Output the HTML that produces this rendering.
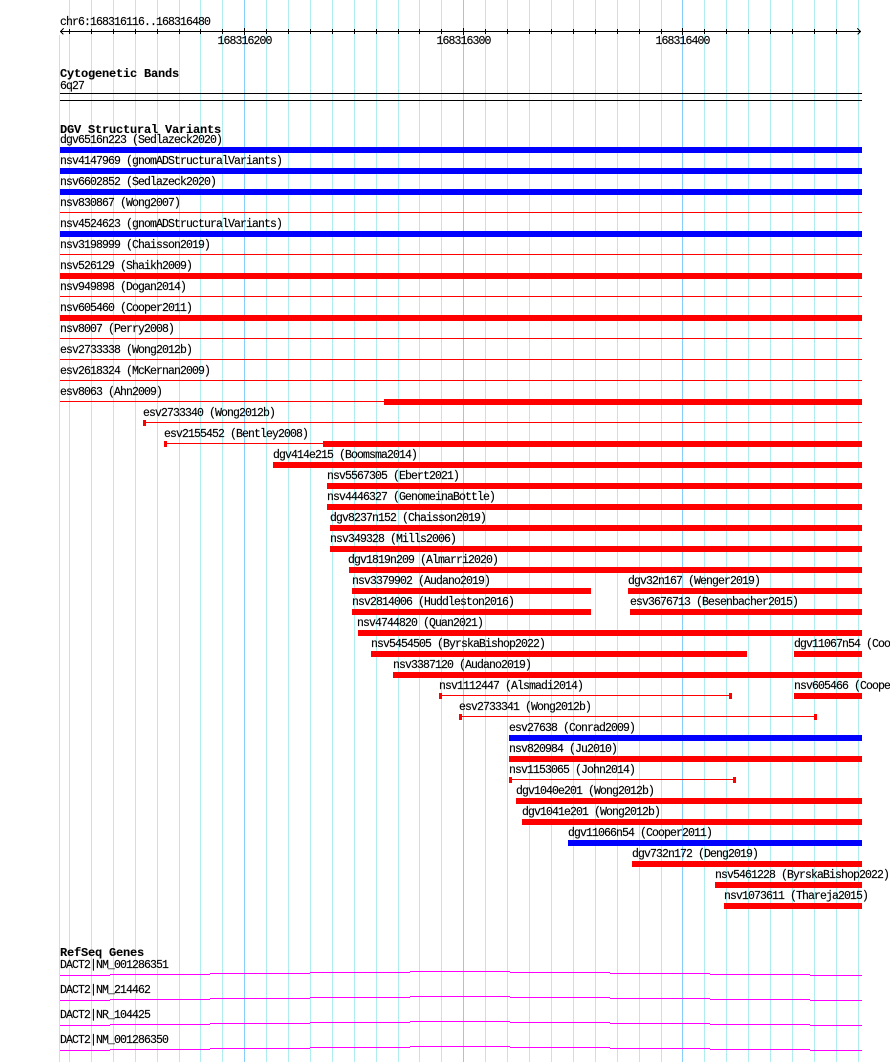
<!DOCTYPE html>
<html><head><meta charset="utf-8"><style>
html,body{margin:0;padding:0;background:#fff}
svg{display:block}
text{font-family:"Liberation Mono",monospace;font-size:11.5px;letter-spacing:-0.9px;fill:#000;stroke:#000;stroke-width:0.15px}
text.b{font-weight:bold;font-size:12px;letter-spacing:-0.2px;stroke-width:0.1px}
</style></head><body>
<svg width="890" height="1062" viewBox="0 0 890 1062" xmlns="http://www.w3.org/2000/svg" shape-rendering="crispEdges">
<rect x="0" y="0" width="890" height="1062" fill="#fff"/>
<g fill="#aeeeee">
<rect x="59" y="35" width="1" height="1027"/>
<rect x="69" y="0" width="1" height="1062"/><rect x="91" y="0" width="1" height="1062"/><rect x="113" y="0" width="1" height="1062"/><rect x="135" y="0" width="1" height="1062"/><rect x="157" y="0" width="1" height="1062"/><rect x="179" y="0" width="1" height="1062"/><rect x="200" y="0" width="1" height="1062"/><rect x="222" y="0" width="1" height="1062"/>
<rect x="266" y="0" width="1" height="1062"/><rect x="288" y="0" width="1" height="1062"/><rect x="310" y="0" width="1" height="1062"/><rect x="332" y="0" width="1" height="1062"/><rect x="354" y="0" width="1" height="1062"/><rect x="376" y="0" width="1" height="1062"/><rect x="398" y="0" width="1" height="1062"/><rect x="419" y="0" width="1" height="1062"/><rect x="441" y="0" width="1" height="1062"/>
<rect x="485" y="0" width="1" height="1062"/><rect x="507" y="0" width="1" height="1062"/><rect x="529" y="0" width="1" height="1062"/><rect x="551" y="0" width="1" height="1062"/><rect x="573" y="0" width="1" height="1062"/><rect x="595" y="0" width="1" height="1062"/><rect x="617" y="0" width="1" height="1062"/><rect x="639" y="0" width="1" height="1062"/><rect x="661" y="0" width="1" height="1062"/>
<rect x="704" y="0" width="1" height="1062"/><rect x="726" y="0" width="1" height="1062"/><rect x="748" y="0" width="1" height="1062"/><rect x="770" y="0" width="1" height="1062"/><rect x="792" y="0" width="1" height="1062"/><rect x="814" y="0" width="1" height="1062"/><rect x="836" y="0" width="1" height="1062"/><rect x="858" y="0" width="1" height="1062"/>
</g>
<g fill="#87cefa">
<rect x="244" y="0" width="1" height="1062"/><rect x="463" y="0" width="1" height="1062"/><rect x="682" y="0" width="1" height="1062"/>
</g>

<!-- ruler -->
<text x="60" y="25">chr6:168316116..168316480</text>
<rect x="60" y="31" width="801" height="1" fill="#000"/>
<g fill="#000">
<rect x="69" y="29" width="1" height="5"/><rect x="91" y="29" width="1" height="5"/><rect x="113" y="29" width="1" height="5"/><rect x="135" y="29" width="1" height="5"/><rect x="157" y="29" width="1" height="5"/><rect x="179" y="29" width="1" height="5"/><rect x="200" y="29" width="1" height="5"/><rect x="222" y="29" width="1" height="5"/><rect x="244" y="28" width="1" height="7"/>
<rect x="266" y="29" width="1" height="5"/><rect x="288" y="29" width="1" height="5"/><rect x="310" y="29" width="1" height="5"/><rect x="332" y="29" width="1" height="5"/><rect x="354" y="29" width="1" height="5"/><rect x="376" y="29" width="1" height="5"/><rect x="398" y="29" width="1" height="5"/><rect x="419" y="29" width="1" height="5"/><rect x="441" y="29" width="1" height="5"/><rect x="463" y="28" width="1" height="7"/>
<rect x="485" y="29" width="1" height="5"/><rect x="507" y="29" width="1" height="5"/><rect x="529" y="29" width="1" height="5"/><rect x="551" y="29" width="1" height="5"/><rect x="573" y="29" width="1" height="5"/><rect x="595" y="29" width="1" height="5"/><rect x="617" y="29" width="1" height="5"/><rect x="639" y="29" width="1" height="5"/><rect x="661" y="29" width="1" height="5"/><rect x="682" y="28" width="1" height="7"/>
<rect x="704" y="29" width="1" height="5"/><rect x="726" y="29" width="1" height="5"/><rect x="748" y="29" width="1" height="5"/><rect x="770" y="29" width="1" height="5"/><rect x="792" y="29" width="1" height="5"/><rect x="814" y="29" width="1" height="5"/><rect x="836" y="29" width="1" height="5"/>
</g>
<polyline points="63.5,28.5 60.5,31.5 63.5,34.5" fill="none" stroke="#000" stroke-width="1"/>
<polyline points="857.5,28.5 860.5,31.5 857.5,34.5" fill="none" stroke="#000" stroke-width="1"/>
<text x="244.5" y="44" text-anchor="middle">168316200</text>
<text x="463.5" y="44" text-anchor="middle">168316300</text>
<text x="682.5" y="44" text-anchor="middle">168316400</text>

<!-- cytobands -->
<text class="b" x="60" y="77">Cytogenetic Bands</text>
<text x="60" y="89">6q27</text>
<rect x="60" y="93" width="802" height="1" fill="#000"/>
<rect x="60" y="100" width="802" height="1" fill="#000"/>

<!-- DGV -->
<text class="b" x="60" y="133">DGV Structural Variants</text>

<g>
<text x="60" y="143">dgv6516n223 (Sedlazeck2020)</text>
<rect x="60" y="147" width="802" height="6" fill="#0000ff"/>
<text x="60" y="164">nsv4147969 (gnomADStructuralVariants)</text>
<rect x="60" y="168" width="802" height="6" fill="#0000ff"/>
<text x="60" y="185">nsv6602852 (Sedlazeck2020)</text>
<rect x="60" y="189" width="802" height="6" fill="#0000ff"/>
<text x="60" y="206">nsv830867 (Wong2007)</text>
<rect x="60" y="212" width="802" height="1" fill="#ff0000"/>
<text x="60" y="227">nsv4524623 (gnomADStructuralVariants)</text>
<rect x="60" y="231" width="802" height="6" fill="#0000ff"/>
<text x="60" y="248">nsv3198999 (Chaisson2019)</text>
<rect x="60" y="254" width="802" height="1" fill="#ff0000"/>
<text x="60" y="269">nsv526129 (Shaikh2009)</text>
<rect x="60" y="273" width="802" height="6" fill="#ff0000"/>
<text x="60" y="290">nsv949898 (Dogan2014)</text>
<rect x="60" y="296" width="802" height="1" fill="#ff0000"/>
<text x="60" y="311">nsv605460 (Cooper2011)</text>
<rect x="60" y="315" width="802" height="6" fill="#ff0000"/>
<text x="60" y="332">nsv8007 (Perry2008)</text>
<rect x="60" y="338" width="802" height="1" fill="#ff0000"/>
<text x="60" y="353">esv2733338 (Wong2012b)</text>
<rect x="60" y="359" width="802" height="1" fill="#ff0000"/>
<text x="60" y="374">esv2618324 (McKernan2009)</text>
<rect x="60" y="380" width="802" height="1" fill="#ff0000"/>
<text x="60" y="395">esv8063 (Ahn2009)</text>
<rect x="60" y="401" width="802" height="1" fill="#ff0000"/>
<rect x="384" y="399" width="478" height="6" fill="#ff0000"/>
<text x="143" y="416">esv2733340 (Wong2012b)</text>
<rect x="143" y="422" width="719" height="1" fill="#ff0000"/>
<rect x="143" y="420" width="3" height="6" fill="#ff0000"/>
<text x="164" y="437">esv2155452 (Bentley2008)</text>
<rect x="164" y="443" width="160" height="1" fill="#ff0000"/>
<rect x="164" y="441" width="3" height="6" fill="#ff0000"/>
<rect x="323" y="441" width="539" height="6" fill="#ff0000"/>
<text x="273" y="458">dgv414e215 (Boomsma2014)</text>
<rect x="273" y="462" width="589" height="6" fill="#ff0000"/>
<text x="327" y="479">nsv5567305 (Ebert2021)</text>
<rect x="327" y="483" width="535" height="6" fill="#ff0000"/>
<text x="327" y="500">nsv4446327 (GenomeinaBottle)</text>
<rect x="327" y="504" width="535" height="6" fill="#ff0000"/>
<text x="330" y="521">dgv8237n152 (Chaisson2019)</text>
<rect x="330" y="525" width="532" height="6" fill="#ff0000"/>
<text x="330" y="542">nsv349328 (Mills2006)</text>
<rect x="330" y="546" width="532" height="6" fill="#ff0000"/>
<text x="348" y="563">dgv1819n209 (Almarri2020)</text>
<rect x="349" y="567" width="513" height="6" fill="#ff0000"/>
<text x="352" y="584">nsv3379902 (Audano2019)</text>
<rect x="352" y="588" width="239" height="6" fill="#ff0000"/>
<text x="628" y="584">dgv32n167 (Wenger2019)</text>
<rect x="628" y="588" width="234" height="6" fill="#ff0000"/>
<text x="352" y="605">nsv2814006 (Huddleston2016)</text>
<rect x="352" y="609" width="239" height="6" fill="#ff0000"/>
<text x="630" y="605">esv3676713 (Besenbacher2015)</text>
<rect x="630" y="609" width="232" height="6" fill="#ff0000"/>
<text x="357" y="626">nsv4744820 (Quan2021)</text>
<rect x="358" y="630" width="504" height="6" fill="#ff0000"/>
<text x="371" y="647">nsv5454505 (ByrskaBishop2022)</text>
<rect x="371" y="651" width="376" height="6" fill="#ff0000"/>
<text x="794" y="647">dgv11067n54 (Cooper2011)</text>
<rect x="794" y="651" width="68" height="6" fill="#ff0000"/>
<text x="393" y="668">nsv3387120 (Audano2019)</text>
<rect x="393" y="672" width="469" height="6" fill="#ff0000"/>
<text x="439" y="689">nsv1112447 (Alsmadi2014)</text>
<rect x="439" y="695" width="293" height="1" fill="#ff0000"/>
<rect x="439" y="693" width="3" height="6" fill="#ff0000"/>
<rect x="729" y="693" width="3" height="6" fill="#ff0000"/>
<text x="794" y="689">nsv605466 (Cooper2011)</text>
<rect x="794" y="693" width="68" height="6" fill="#ff0000"/>
<text x="459" y="710">esv2733341 (Wong2012b)</text>
<rect x="459" y="716" width="358" height="1" fill="#ff0000"/>
<rect x="459" y="714" width="3" height="6" fill="#ff0000"/>
<rect x="814" y="714" width="3" height="6" fill="#ff0000"/>
<text x="509" y="731">esv27638 (Conrad2009)</text>
<rect x="509" y="735" width="353" height="6" fill="#0000ff"/>
<text x="509" y="752">nsv820984 (Ju2010)</text>
<rect x="509" y="756" width="353" height="6" fill="#ff0000"/>
<text x="509" y="773">nsv1153065 (John2014)</text>
<rect x="509" y="779" width="227" height="1" fill="#ff0000"/>
<rect x="509" y="777" width="3" height="6" fill="#ff0000"/>
<rect x="733" y="777" width="3" height="6" fill="#ff0000"/>
<text x="516" y="794">dgv1040e201 (Wong2012b)</text>
<rect x="516" y="798" width="346" height="6" fill="#ff0000"/>
<text x="522" y="815">dgv1041e201 (Wong2012b)</text>
<rect x="522" y="819" width="340" height="6" fill="#ff0000"/>
<text x="568" y="836">dgv11066n54 (Cooper2011)</text>
<rect x="568" y="840" width="294" height="6" fill="#0000ff"/>
<text x="632" y="857">dgv732n172 (Deng2019)</text>
<rect x="632" y="861" width="230" height="6" fill="#ff0000"/>
<text x="715" y="878">nsv5461228 (ByrskaBishop2022)</text>
<rect x="715" y="882" width="147" height="6" fill="#ff0000"/>
<text x="724" y="899">nsv1073611 (Thareja2015)</text>
<rect x="724" y="903" width="138" height="6" fill="#ff0000"/>
</g>

<!-- RefSeq -->
<text class="b" x="60" y="956">RefSeq Genes</text>
<text x="60" y="968">DACT2|NM_001286351</text>
<text x="60" y="993">DACT2|NM_214462</text>
<text x="60" y="1018">DACT2|NR_104425</text>
<text x="60" y="1043">DACT2|NM_001286350</text>
<g fill="#ff00ff">
<rect x="60" y="975" width="50" height="1"/><rect x="110" y="974" width="100" height="1"/><rect x="210" y="973" width="100" height="1"/><rect x="310" y="972" width="100" height="1"/><rect x="410" y="971" width="100" height="1"/><rect x="510" y="972" width="100" height="1"/><rect x="610" y="973" width="100" height="1"/><rect x="710" y="974" width="100" height="1"/><rect x="810" y="975" width="52" height="1"/>
<rect x="60" y="1000" width="50" height="1"/><rect x="110" y="999" width="100" height="1"/><rect x="210" y="998" width="100" height="1"/><rect x="310" y="997" width="100" height="1"/><rect x="410" y="996" width="100" height="1"/><rect x="510" y="997" width="100" height="1"/><rect x="610" y="998" width="100" height="1"/><rect x="710" y="999" width="100" height="1"/><rect x="810" y="1000" width="52" height="1"/>
<rect x="60" y="1025" width="50" height="1"/><rect x="110" y="1024" width="100" height="1"/><rect x="210" y="1023" width="100" height="1"/><rect x="310" y="1022" width="100" height="1"/><rect x="410" y="1021" width="100" height="1"/><rect x="510" y="1022" width="100" height="1"/><rect x="610" y="1023" width="100" height="1"/><rect x="710" y="1024" width="100" height="1"/><rect x="810" y="1025" width="52" height="1"/>
<rect x="60" y="1050" width="50" height="1"/><rect x="110" y="1049" width="100" height="1"/><rect x="210" y="1048" width="100" height="1"/><rect x="310" y="1047" width="100" height="1"/><rect x="410" y="1046" width="100" height="1"/><rect x="510" y="1047" width="100" height="1"/><rect x="610" y="1048" width="100" height="1"/><rect x="710" y="1049" width="100" height="1"/><rect x="810" y="1050" width="52" height="1"/>
</g>
</svg>
</body></html>
